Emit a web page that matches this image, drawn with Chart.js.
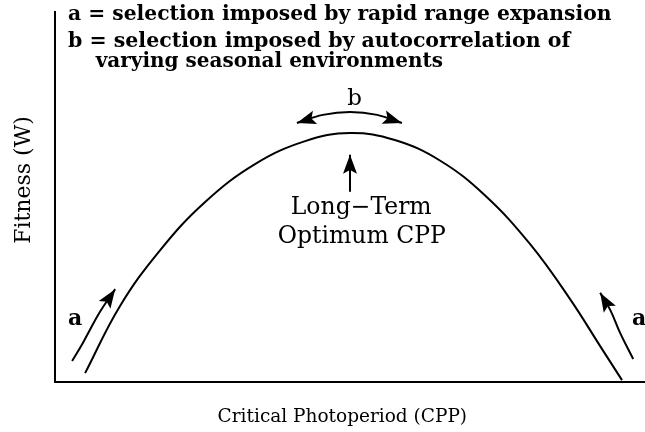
<!DOCTYPE html>
<html>
<head>
<meta charset="utf-8">
<script src="https://cdn.jsdelivr.net/npm/chart.js@4.4.1/dist/chart.umd.min.js"></script>
<style>
  html, body { margin: 0; padding: 0; background: #fff; }
  canvas { display: block; }
</style>
</head>
<body>
<canvas id="c" width="645" height="432"></canvas>
<script>
// ---- data (in arbitrary 0-100 units) ----
const cppValues     = [5.1, 11.0, 17.8, 25.4, 33.9, 42.4, 50.0, 57.6, 65.3, 72.9, 80.5, 87.3, 92.4, 96.1];
const fitnessValues = [2.4, 20.5, 35.6, 48.6, 58.9, 65.1, 67.3, 65.4, 59.8, 50.4, 37.3, 22.4,  9.7,  0.5];

const arrowLeftX  = [2.9, 4.7, 7.6, 10.2];
const arrowLeftY  = [5.7, 10.5, 18.9, 25.1];
const arrowRightX = [98.0, 95.8, 94.1, 92.4];
const arrowRightY = [6.2, 13.2, 19.5, 24.1];
const arrowTopX   = [41.0, 45.4, 50.0, 54.6, 58.8];
const arrowTopY   = [70.0, 72.2, 73.0, 72.2, 70.0];
const arrowOptX   = [50.0, 50.0];
const arrowOptY   = [51.4, 61.4];

const legendLines = [
  'a = selection imposed by rapid range expansion',
  'b = selection imposed by autocorrelation of',
  'varying seasonal environments'
];
const optimumLines = ['Long\u2212Term', 'Optimum CPP'];
const xTitle = 'Critical Photoperiod (CPP)';
const yTitle = 'Fitness (W)';

// ---- build ----
const toPts = (xs, ys) => xs.map((x, i) => ({x: x, y: ys[i]}));
const SERIF = '"DejaVu Serif", "Liberation Serif", serif';

const lineBase = {
  borderColor: '#000', pointRadius: 0, fill: false, clip: false,
  borderWidth: 2, tension: 0.4
};

const annotations = [
  {text: legendLines[0], x: 2.2, y: 99.2, align: 'left',   font: 'bold 20.3px ' + SERIF},
  {text: legendLines[1], x: 2.2, y: 91.9, align: 'left',   font: 'bold 20.5px ' + SERIF},
  {text: legendLines[2], x: 6.9, y: 86.6, align: 'left',   font: 'bold 20px ' + SERIF},
  {text: 'b',            x: 50.8, y: 76.4, align: 'center', font: '23px ' + SERIF},
  {text: optimumLines[0], x: 51.9, y: 47.0, align: 'center', font: '23.5px ' + SERIF},
  {text: optimumLines[1], x: 52.0, y: 39.3, align: 'center', font: '23.5px ' + SERIF},
  {text: 'a',            x: 3.4,  y: 17.0, align: 'center', font: 'bold 22px ' + SERIF},
  {text: 'a',            x: 99.0, y: 17.0, align: 'center', font: 'bold 22px ' + SERIF}
];

const arrowPlugin = {
  id: 'arrowsAndNotes',
  afterDatasetsDraw(chart) {
    const ctx = chart.ctx;
    const xs = chart.scales.x, ys = chart.scales.y;
    const area = chart.chartArea;
    ctx.save();
    ctx.fillStyle = '#000';
    chart.data.datasets.forEach((ds, i) => {
      if (!ds.arrowEnds) return;
      const pts = chart.getDatasetMeta(i).data;
      const head = (tip, from) => {
        const ang = Math.atan2(tip.y - from.y, tip.x - from.x);
        const L = 19, W = 7;
        ctx.beginPath();
        ctx.moveTo(tip.x, tip.y);
        ctx.lineTo(tip.x - L * Math.cos(ang) + W * Math.sin(ang), tip.y - L * Math.sin(ang) - W * Math.cos(ang));
        ctx.lineTo(tip.x - L * 0.8 * Math.cos(ang), tip.y - L * 0.8 * Math.sin(ang));
        ctx.lineTo(tip.x - L * Math.cos(ang) - W * Math.sin(ang), tip.y - L * Math.sin(ang) + W * Math.cos(ang));
        ctx.closePath();
        ctx.fill();
      };
      const n = pts.length;
      if (ds.arrowEnds.includes('end')) head(pts[n - 1], pts[n - 2]);
      if (ds.arrowEnds.includes('start')) head(pts[0], pts[1]);
    });
    ctx.textBaseline = 'middle';
    annotations.forEach(a => {
      ctx.font = a.font;
      ctx.textAlign = a.align;
      ctx.fillText(a.text, xs.getPixelForValue(a.x), ys.getPixelForValue(a.y));
    });
    // axis titles
    ctx.textAlign = 'center';
    ctx.font = '18.5px ' + SERIF;
    ctx.fillText(xTitle, xs.getPixelForValue(48.7), area.bottom + 35);
    ctx.save();
    ctx.translate(area.left - 31, ys.getPixelForValue(54.6));
    ctx.rotate(-Math.PI / 2);
    ctx.font = '22px ' + SERIF;
    ctx.fillText(yTitle, 0, 0);
    ctx.restore();
    ctx.restore();
  }
};

new Chart(document.getElementById('c'), {
  type: 'line',
  data: {
    datasets: [
      Object.assign({}, lineBase, {data: toPts(cppValues, fitnessValues)}),
      Object.assign({}, lineBase, {data: toPts(arrowLeftX, arrowLeftY), arrowEnds: ['end']}),
      Object.assign({}, lineBase, {data: toPts(arrowRightX, arrowRightY), arrowEnds: ['end']}),
      Object.assign({}, lineBase, {data: toPts(arrowTopX, arrowTopY), arrowEnds: ['start', 'end']}),
      Object.assign({}, lineBase, {data: toPts(arrowOptX, arrowOptY), tension: 0, arrowEnds: ['end']})
    ]
  },
  options: {
    responsive: false,
    animation: false,
    devicePixelRatio: 1,
    layout: {padding: {left: 55, right: 0, top: 12, bottom: 50}},
    plugins: {legend: {display: false}, tooltip: {enabled: false}},
    scales: {
      x: {
        type: 'linear', min: 0, max: 100,
        ticks: {display: false},
        grid: {display: false, drawTicks: false},
        border: {display: true, color: '#000', width: 2}
      },
      y: {
        type: 'linear', min: 0, max: 100,
        ticks: {display: false},
        grid: {display: false, drawTicks: false},
        border: {display: true, color: '#000', width: 2}
      }
    }
  },
  plugins: [arrowPlugin]
});
</script>
</body>
</html>
